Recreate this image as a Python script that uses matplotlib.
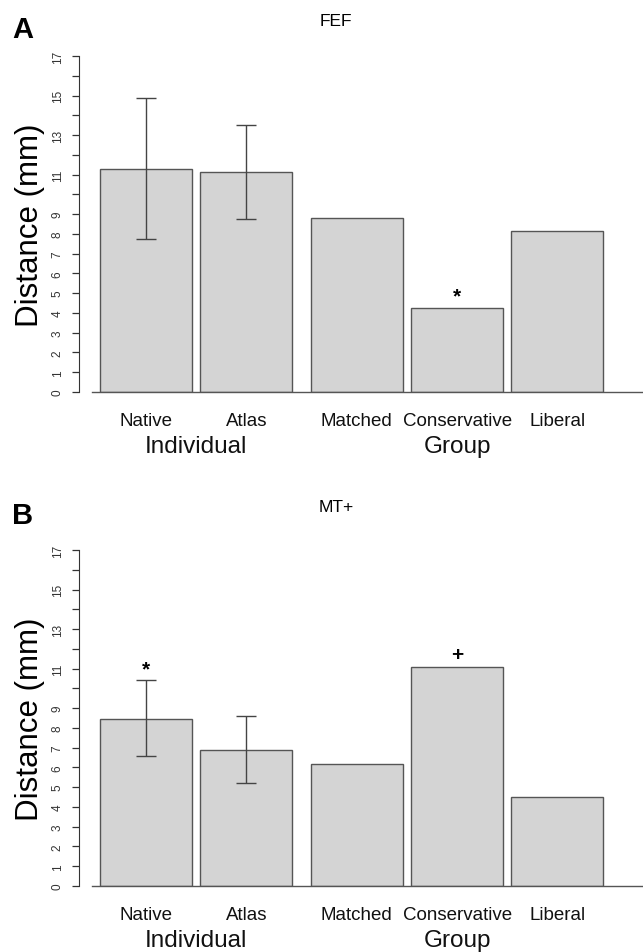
import numpy as np
import matplotlib
matplotlib.use('Agg')
import matplotlib.pyplot as plt

plt.rcParams['font.family'] = ['Liberation Sans', 'DejaVu Sans']

categories = ['Native', 'Atlas', 'Matched', 'Conservative', 'Liberal']
groups = ['Individual', 'Group']

fef_mean = [11.3, 11.15, 8.78, 4.25, 8.15]
fef_err_lo = [7.75, 8.76]
fef_err_hi = [14.9, 13.5]
fef_marks = ['', '', '', '*', '']

mt_mean = [8.45, 6.9, 6.17, 11.1, 4.52]
mt_err_lo = [6.6, 5.2]
mt_err_hi = [10.4, 8.6]
mt_marks = ['*', '', '', '+', '']

yticks = list(range(0, 18))
ylabels = [str(v) if (v <= 9 or v % 2 == 1) else '' for v in yticks]

# bar layout: width 1, small gap inside a group, bigger gap between groups
lefts = np.array([0.0, 1.09, 2.29, 3.38, 4.47])
centers = lefts + 0.5
group_centers = [centers[:2].mean(), centers[3]]

fill = '#d4d4d4'
edge = '#555555'


def panel(ax, means, err_lo, err_hi, marks, title, letter, fig_y_title):
    ax.bar(centers, means, width=1.0, color=fill, edgecolor=edge, linewidth=1.0, zorder=2)
    n = len(err_lo)
    m = np.array(means[:n])
    ax.errorbar(centers[:n], m, yerr=[m - np.array(err_lo), np.array(err_hi) - m],
                fmt='none', ecolor='#444444', elinewidth=1.0, capsize=7, capthick=1.0, zorder=3)
    for i, s in enumerate(marks):
        if not s:
            continue
        top = err_hi[i] if i < n else means[i]
        ax.text(centers[i], top + 0.12, s, ha='center', va='bottom', fontsize=15,
                fontweight='bold', color='black')

    ax.set_xlim(-0.087, 5.90)
    ax.set_ylim(0, 17)
    ax.axhline(0, color=edge, linewidth=1.0, zorder=4, clip_on=False)

    for sp in ['top', 'right', 'bottom']:
        ax.spines[sp].set_visible(False)
    ax.spines['left'].set_position(('outward', 9.4))
    ax.spines['left'].set_color('#333333')
    ax.spines['left'].set_bounds(0, 17)

    ax.set_yticks(yticks)
    ax.set_yticklabels(ylabels, rotation=90, va='center', fontsize=8.5, color='#333333')
    ax.tick_params(axis='y', length=5, width=0.9, color='#333333', pad=6)

    ax.set_xticks([])
    for c, lab in zip(centers, categories):
        ax.text(c, -0.098, lab, transform=ax.get_xaxis_transform(), ha='center',
                va='baseline', fontsize=13.5, color='#111111')
    for c, lab in zip(group_centers, groups):
        ax.text(c, -0.178, lab, transform=ax.get_xaxis_transform(), ha='center',
                va='baseline', fontsize=17.5, color='#111111')

    ax.set_ylabel('Distance (mm)', fontsize=22.5, labelpad=5)

    fig.text(336 / 643, fig_y_title, title, ha='center', va='center', fontsize=12.5)
    fig.text(12 / 643, fig_y_title - 0.008, letter, ha='left', va='center',
             fontsize=21, fontweight='bold')


fig = plt.figure(figsize=(6.43, 9.53), dpi=100)
ax1 = fig.add_axes([92 / 643, 1 - 393 / 953, 551 / 643, 336 / 953])
ax2 = fig.add_axes([92 / 643, 1 - 887 / 953, 551 / 643, 336 / 953])

panel(ax1, fef_mean, fef_err_lo, fef_err_hi, fef_marks, 'FEF', 'A', 1 - 22 / 953)
panel(ax2, mt_mean, mt_err_lo, mt_err_hi, mt_marks, 'MT+', 'B', 1 - 508 / 953)

plt.savefig('out.png', dpi=100)
